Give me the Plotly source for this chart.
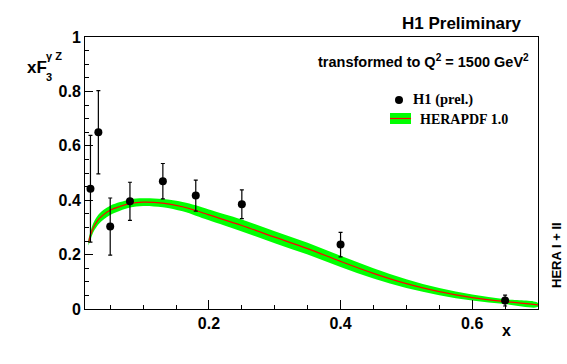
import plotly.graph_objects as go

# H1 preliminary data points
x_data = [0.02, 0.032, 0.05, 0.08, 0.13, 0.18, 0.25, 0.40, 0.65]
y_data = [0.442, 0.650, 0.303, 0.396, 0.470, 0.417, 0.385, 0.237, 0.031]
err_data = [0.196, 0.153, 0.105, 0.070, 0.065, 0.057, 0.053, 0.045, 0.020]

# HERAPDF 1.0 prediction: central value and uncertainty
x_pdf = [0.017, 0.02, 0.024, 0.03, 0.034, 0.04, 0.05, 0.065, 0.08, 0.1, 0.13, 0.16,
         0.18, 0.2, 0.25, 0.3, 0.35, 0.4, 0.45, 0.5, 0.55, 0.6, 0.65, 0.7]
y_pdf = [0.245, 0.27, 0.297, 0.322, 0.334, 0.347, 0.363, 0.377, 0.388, 0.393, 0.389, 0.376,
         0.362, 0.346, 0.307, 0.264, 0.222, 0.175, 0.131, 0.093, 0.064, 0.042, 0.027, 0.015]
unc_pdf = [0.012, 0.015, 0.017, 0.018, 0.018, 0.018, 0.017, 0.016, 0.015, 0.014, 0.015, 0.017,
           0.019, 0.020, 0.022, 0.022, 0.022, 0.021, 0.019, 0.016, 0.013, 0.011, 0.009, 0.007]

x_ticks = [0.2, 0.4, 0.6]
y_ticks = [0, 0.2, 0.4, 0.6, 0.8, 1]

upper = [y + u for y, u in zip(y_pdf, unc_pdf)]
lower = [y - u for y, u in zip(y_pdf, unc_pdf)]

GREEN = "#00ff00"
RED = "#ff0000"
SANS = "Liberation Sans, Arial, sans-serif"
SERIF = "Liberation Serif, Times New Roman, serif"

fig = go.Figure()
fig.add_trace(go.Scatter(x=x_pdf + x_pdf[::-1], y=upper + lower[::-1], fill="toself",
                         fillcolor=GREEN, line=dict(width=0, shape="spline"),
                         mode="lines", showlegend=False, hoverinfo="skip"))
fig.add_trace(go.Scatter(x=x_pdf, y=y_pdf, mode="lines",
                         line=dict(color=RED, width=1.2, shape="spline"), showlegend=False))
fig.add_trace(go.Scatter(x=x_data, y=y_data, mode="markers",
                         marker=dict(color="black", size=8),
                         error_y=dict(type="data", array=err_data, color="black",
                                      thickness=1.2, width=2),
                         showlegend=False))

fig.update_xaxes(range=[0.0117, 0.7], tickvals=x_ticks, ticktext=[f"{v:g}" for v in x_ticks],
                 ticks="inside", ticklen=9, tickcolor="black", tickwidth=1,
                 minor=dict(dtick=0.05, tick0=0, ticks="inside", ticklen=4, tickcolor="black"),
                 showline=True, linecolor="black", linewidth=1, mirror=True,
                 showgrid=False, zeroline=False,
                 tickfont=dict(family=SANS, size=16, color="black", weight="bold"))
fig.update_yaxes(range=[0, 1], tickvals=y_ticks, ticktext=[f"{v:g}" for v in y_ticks],
                 ticks="inside", ticklen=8, tickcolor="black", tickwidth=1,
                 minor=dict(dtick=0.05, tick0=0, ticks="inside", ticklen=4, tickcolor="black"),
                 showline=True, linecolor="black", linewidth=1, mirror=True,
                 showgrid=False, zeroline=False,
                 tickfont=dict(family=SANS, size=16, color="black", weight="bold"))

ann = []
def txt(x, y, t, size, xanchor="center", family=SANS, angle=0):
    ann.append(dict(x=x, y=y, xref="paper", yref="paper", text=t, showarrow=False,
                    xanchor=xanchor, yanchor="middle", textangle=angle,
                    font=dict(family=family, size=size, color="black", weight="bold")))

W, H = 567, 364
L, R, T, B = 85, 29, 37, 55
pw, ph = W - L - R, H - T - B
def px(xp): return (xp - L) / pw
def py(yp): return (H - B - yp) / ph

txt(px(524), py(24), "H1 Preliminary", 17, xanchor="right")
txt(px(531), py(61), "transformed to Q<sup>2</sup> = 1500 GeV<sup>2</sup>", 14.5, xanchor="right")
txt(px(49), py(67), "xF", 17, xanchor="right")
txt(px(44), py(77), "3", 11, xanchor="left")
txt(px(44), py(56), "γ Z", 11, xanchor="left")
txt(px(506), py(330), "x", 16)
txt(px(556), py(255), "HERA I + II", 13, angle=-90)
# legend
txt(px(411), py(100), "H1 (prel.)", 14.5, xanchor="left", family=SERIF)
txt(px(418), py(119), "HERAPDF 1.0", 14, xanchor="left", family=SERIF)

shapes = [
    dict(type="circle", xref="paper", yref="paper", x0=px(395), x1=px(403), y0=py(96), y1=py(104),
         fillcolor="black", line=dict(width=0)),
    dict(type="rect", xref="paper", yref="paper", x0=px(390), x1=px(411), y0=py(124), y1=py(113),
         fillcolor=GREEN, line=dict(width=0)),
    dict(type="line", xref="paper", yref="paper", x0=px(390), x1=px(411), y0=py(118.5), y1=py(118.5),
         line=dict(color=RED, width=1.2)),
]

fig.update_layout(width=W, height=H, margin=dict(l=L, r=R, t=T, b=B),
                  paper_bgcolor="white", plot_bgcolor="white",
                  annotations=ann, shapes=shapes, showlegend=False)

fig.write_html("out.html", config={"displayModeBar": False},
               post_script="document.body.style.margin='0';document.body.style.padding='0';")
